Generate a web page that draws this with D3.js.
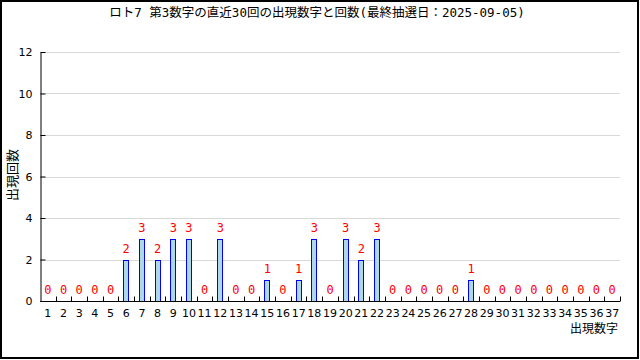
<!DOCTYPE html>
<html>
<head>
<meta charset="utf-8">
<script src="https://cdn.jsdelivr.net/npm/d3@7"></script>
<style>
  html, body { margin: 0; padding: 0; background: #fff; }
  svg { display: block; }
</style>
</head>
<body>
<div id="chart"></div>
<script>
// Chart data
const title = 'ロト7 第3数字の直近30回の出現数字と回数(最終抽選日：2025-09-05)';
const numbers = d3.range(1, 38).map(String);
const counts = [0, 0, 0, 0, 0, 2, 3, 2, 3, 3, 0, 3, 0, 0, 1, 0, 1, 3, 0, 3,
                2, 3, 0, 0, 0, 0, 0, 1, 0, 0, 0, 0, 0, 0, 0, 0, 0];
const yTicks = [0, 2, 4, 6, 8, 10, 12];

const width = 640, height = 360;
const margin = { top: 52, right: 20, bottom: 59, left: 40 };
const chartWidth = width - margin.left - margin.right;
const chartHeight = height - margin.top - margin.bottom;

const data = numbers.map((n, i) => ({ n, v: counts[i] }));

const svg = d3.select('#chart')
    .append('svg')
    .attr('width', width)
    .attr('height', height);

// outer frame
svg.append('rect')
    .attr('x', 1).attr('y', 1)
    .attr('width', width - 3).attr('height', height - 3)
    .attr('fill', '#fff')
    .attr('stroke', '#000')
    .attr('stroke-width', 2);

svg.append('text')
    .attr('x', 317)
    .attr('y', 17)
    .attr('text-anchor', 'middle')
    .style('font-family', '"DejaVu Sans Mono", "Noto Sans CJK JP", monospace')
    .style('font-size', '12.5px')
    .text(title);

const g = svg.append('g')
    .attr('transform', `translate(${margin.left},${margin.top})`);

const x = d3.scaleBand()
    .domain(numbers)
    .range([0, chartWidth]);

const y = d3.scaleLinear()
    .domain([0, 12])
    .range([chartHeight, 0]);

// gridlines
g.append('g')
    .selectAll('line')
    .data(yTicks.filter(d => d > 0))
    .join('line')
    .attr('x1', 0)
    .attr('x2', chartWidth)
    .attr('y1', d => Math.round(y(d)) + 0.5)
    .attr('y2', d => Math.round(y(d)) + 0.5)
    .attr('stroke', '#d9d9d9');

// bars
g.append('g')
    .selectAll('rect')
    .data(data.filter(d => d.v > 0))
    .join('rect')
    .attr('x', d => Math.round(x(d.n) + x.bandwidth() / 2 - 3) + 0.5)
    .attr('y', d => Math.round(y(d.v)) + 0.5)
    .attr('width', 5)
    .attr('height', d => Math.round(y(0)) - Math.round(y(d.v)))
    .attr('fill', '#add8e6')
    .attr('stroke', '#0000ff');

// value labels
g.append('g')
    .selectAll('text')
    .data(data)
    .join('text')
    .attr('x', d => x(d.n) + x.bandwidth() / 2)
    .attr('y', d => y(d.v) - 7)
    .attr('text-anchor', 'middle')
    .attr('fill', '#ff0000')
    .style('font-family', '"DejaVu Sans Mono", monospace')
    .style('font-size', '12px')
    .text(d => d.v);

// y axis
const yAxis = g.append('g')
    .attr('transform', 'translate(0.5,0)')
    .call(d3.axisLeft(y).tickValues(yTicks).tickSizeInner(-5).tickSizeOuter(0).tickPadding(8));
yAxis.select('.domain').attr('stroke', '#000');
yAxis.selectAll('.tick line').attr('stroke', '#000');
yAxis.selectAll('.tick text')
    .style('font-family', '"DejaVu Sans", sans-serif')
    .style('font-size', '11px');

// x axis: ticks at band edges pointing up
const xAxisG = g.append('g')
    .attr('transform', `translate(0,${Math.round(chartHeight) + 0.5})`);
xAxisG.append('line')
    .attr('x1', 0).attr('x2', chartWidth)
    .attr('stroke', '#000');
xAxisG.selectAll('.edge')
    .data(numbers.slice(1).concat(['end']))
    .join('line')
    .attr('class', 'edge')
    .attr('x1', d => Math.round(d === 'end' ? chartWidth : x(d)) + 0.5)
    .attr('x2', d => Math.round(d === 'end' ? chartWidth : x(d)) + 0.5)
    .attr('y1', 0).attr('y2', -5)
    .attr('stroke', '#000');
xAxisG.selectAll('.lbl')
    .data(numbers)
    .join('text')
    .attr('class', 'lbl')
    .attr('x', d => x(d) + x.bandwidth() / 2)
    .attr('y', 15.5)
    .attr('text-anchor', 'middle')
    .style('font-family', '"DejaVu Sans", sans-serif')
    .style('font-size', '11px')
    .text(d => d);

// axis titles
svg.append('text')
    .attr('transform', 'translate(17,175) rotate(-90)')
    .attr('text-anchor', 'middle')
    .style('font-family', '"Noto Sans CJK JP", sans-serif')
    .style('font-size', '13px')
    .text('出現回数');

svg.append('text')
    .attr('x', 618)
    .attr('y', 333)
    .attr('text-anchor', 'end')
    .style('font-family', '"Noto Sans CJK JP", sans-serif')
    .style('font-size', '12px')
    .text('出現数字');
</script>
</body>
</html>
